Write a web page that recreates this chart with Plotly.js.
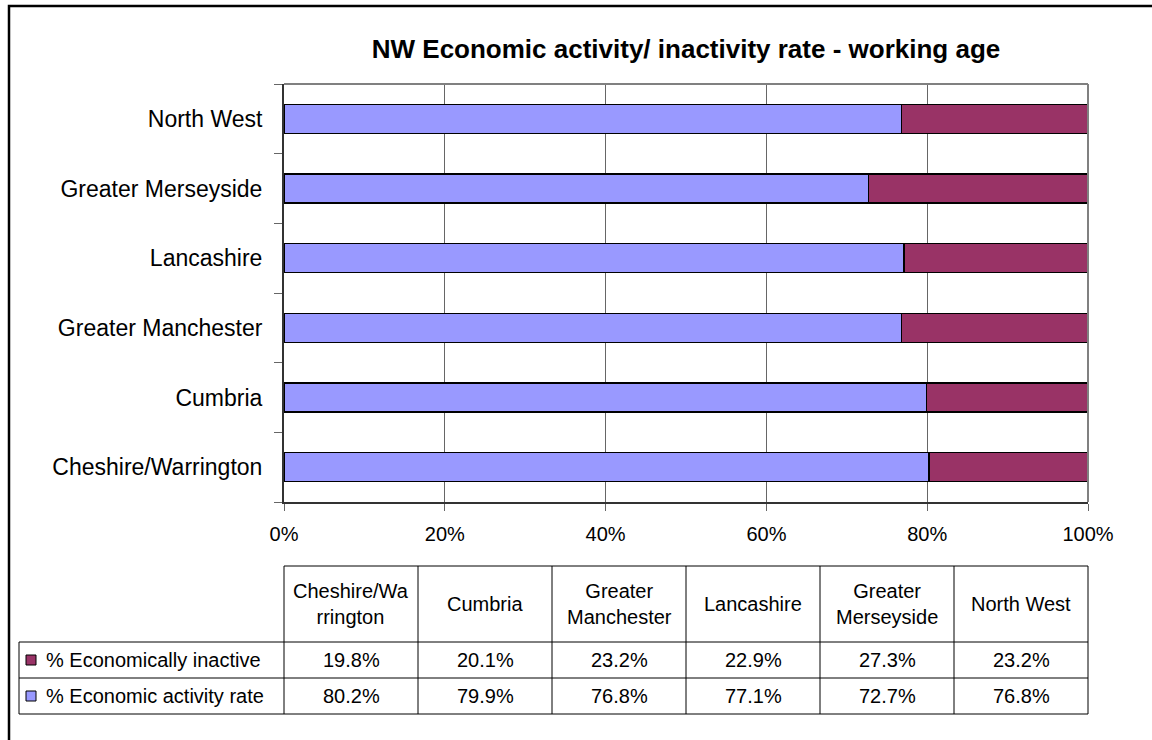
<!DOCTYPE html>
<html>
<head>
<meta charset="utf-8">
<script src="https://cdn.plot.ly/plotly-3.0.1.min.js"></script>
<style>html,body{margin:0;padding:0;background:#fff;}#chart{width:1152px;height:740px;}</style>
</head>
<body>
<div id="chart"></div>
<script>
// ---- data ----
const categories = ['Cheshire/Warrington', 'Cumbria', 'Greater Manchester', 'Lancashire', 'Greater Merseyside', 'North West'];
const headerLabels = ['Cheshire/Wa<br>rrington', 'Cumbria', 'Greater<br>Manchester', 'Lancashire', 'Greater<br>Merseyside', 'North West'];
const activityRate = [80.2, 79.9, 76.8, 77.1, 72.7, 76.8];
const inactiveRate = [19.8, 20.1, 23.2, 22.9, 27.3, 23.2];
const seriesNames = ['% Economic activity rate', '% Economically inactive'];
const seriesColors = ['#9999FF', '#993366'];
const xTicks = [0, 20, 40, 60, 80, 100];
const titleText = 'NW Economic activity/ inactivity rate - working age';

// ---- geometry helpers (pixel -> paper) ----
const L = 284, R = 1088, T = 84, B = 502;
const W = R - L, H = B - T;
const px = x => (x - L) / W;
const py = y => (B - y) / H;
const FONT = '"Liberation Sans", Arial, sans-serif';

const traces = [
  {type: 'bar', orientation: 'h', name: seriesNames[0], y: categories, x: activityRate,
   marker: {color: seriesColors[0], line: {color: '#000', width: 1.5}}, showlegend: false, hoverinfo: 'none'},
  {type: 'bar', orientation: 'h', name: seriesNames[1], y: categories, x: inactiveRate,
   marker: {color: seriesColors[1], line: {color: '#000', width: 1.5}}, showlegend: false, hoverinfo: 'none'}
];

const shapes = [];
const annotations = [];
function line(x0, y0, x1, y1, color, width) {
  shapes.push({type: 'line', xref: 'paper', yref: 'paper', x0: px(x0), y0: py(y0), x1: px(x1), y1: py(y1),
    line: {color: color, width: width}});
}
// outer frame
shapes.push({type: 'rect', xref: 'paper', yref: 'paper', x0: px(9), x1: px(1250), y0: py(6), y1: py(850),
  line: {color: '#000', width: 2.5}, fillcolor: 'rgba(0,0,0,0)'});
// plot area border (top & right)
line(L, T, R, T, '#808080', 2);
line(R, T, R, B, '#808080', 2);

// data table
const nCol = categories.length;
const colW = W / nCol;
const tTop = 566, tHead = 642, tRow1 = 678, tBot = 714, tLeft = 19;
line(L, tTop, R, tTop, '#000', 1);
line(tLeft, tHead, R, tHead, '#000', 1);
line(tLeft, tRow1, R, tRow1, '#000', 1);
line(tLeft, tBot, R, tBot, '#000', 1);
line(tLeft, tHead, tLeft, tBot, '#000', 1);
for (let i = 0; i <= nCol; i++) {
  const x = L + i * colW;
  line(x, tTop, x, tBot, '#000', 1);
}
const rowInactiveY = (tHead + tRow1) / 2, rowActiveY = (tRow1 + tBot) / 2;
for (let i = 0; i < nCol; i++) {
  const cx = px(L + (i + 0.5) * colW);
  annotations.push({xref: 'paper', yref: 'paper', x: cx, y: py((tTop + tHead) / 2), text: headerLabels[i],
    showarrow: false, font: {family: FONT, size: 20, color: '#000'}, align: 'center', xanchor: 'center', yanchor: 'middle'});
  annotations.push({xref: 'paper', yref: 'paper', x: cx, y: py(rowInactiveY), text: inactiveRate[i].toFixed(1) + '%',
    showarrow: false, font: {family: FONT, size: 20, color: '#000'}, xanchor: 'center', yanchor: 'middle'});
  annotations.push({xref: 'paper', yref: 'paper', x: cx, y: py(rowActiveY), text: activityRate[i].toFixed(1) + '%',
    showarrow: false, font: {family: FONT, size: 20, color: '#000'}, xanchor: 'center', yanchor: 'middle'});
}
// legend keys in table
[[rowInactiveY, 1], [rowActiveY, 0]].forEach(([yc, s]) => {
  shapes.push({type: 'rect', xref: 'paper', yref: 'paper', x0: px(26), x1: px(36), y0: py(yc - 5), y1: py(yc + 5),
    fillcolor: seriesColors[s], line: {color: '#000', width: 1}});
  annotations.push({xref: 'paper', yref: 'paper', x: px(44), y: py(yc), text: seriesNames[s], showarrow: false,
    font: {family: FONT, size: 20, color: '#000'}, xanchor: 'left', yanchor: 'middle'});
});

const layout = {
  width: 1152, height: 740,
  paper_bgcolor: '#fff', plot_bgcolor: '#fff',
  margin: {l: L, r: 1152 - R, t: T, b: 740 - B, pad: 0},
  barmode: 'stack', bargap: 0.584,
  font: {family: FONT, size: 20, color: '#000'},
  title: {text: '<b>' + titleText + '</b>', font: {family: FONT, size: 26, color: '#000'},
    xref: 'paper', x: 0.5, xanchor: 'center', yref: 'container', y: 1 - 49 / 740, yanchor: 'middle'},
  xaxis: {range: [0, 100], tickvals: xTicks, ticktext: xTicks.map(v => v + '%'),
    showgrid: true, gridcolor: '#666', gridwidth: 1, zeroline: false,
    showline: true, linecolor: '#333', linewidth: 2, ticks: 'outside', ticklen: 7, tickcolor: '#666',
    tickfont: {family: FONT, size: 20, color: '#000'}, ticklabelstandoff: 6, fixedrange: true},
  yaxis: {type: 'category', categoryorder: 'array', categoryarray: categories,
    tickson: 'boundaries', ticks: 'outside', ticklen: 8, tickcolor: '#666', showgrid: false, zeroline: false,
    showline: true, linecolor: '#333', linewidth: 2,
    tickfont: {family: FONT, size: 23, color: '#000'}, ticklabelstandoff: 15, fixedrange: true},
  shapes: shapes,
  annotations: annotations
};

Plotly.newPlot('chart', traces, layout, {staticPlot: true, displayModeBar: false});
</script>
</body>
</html>
